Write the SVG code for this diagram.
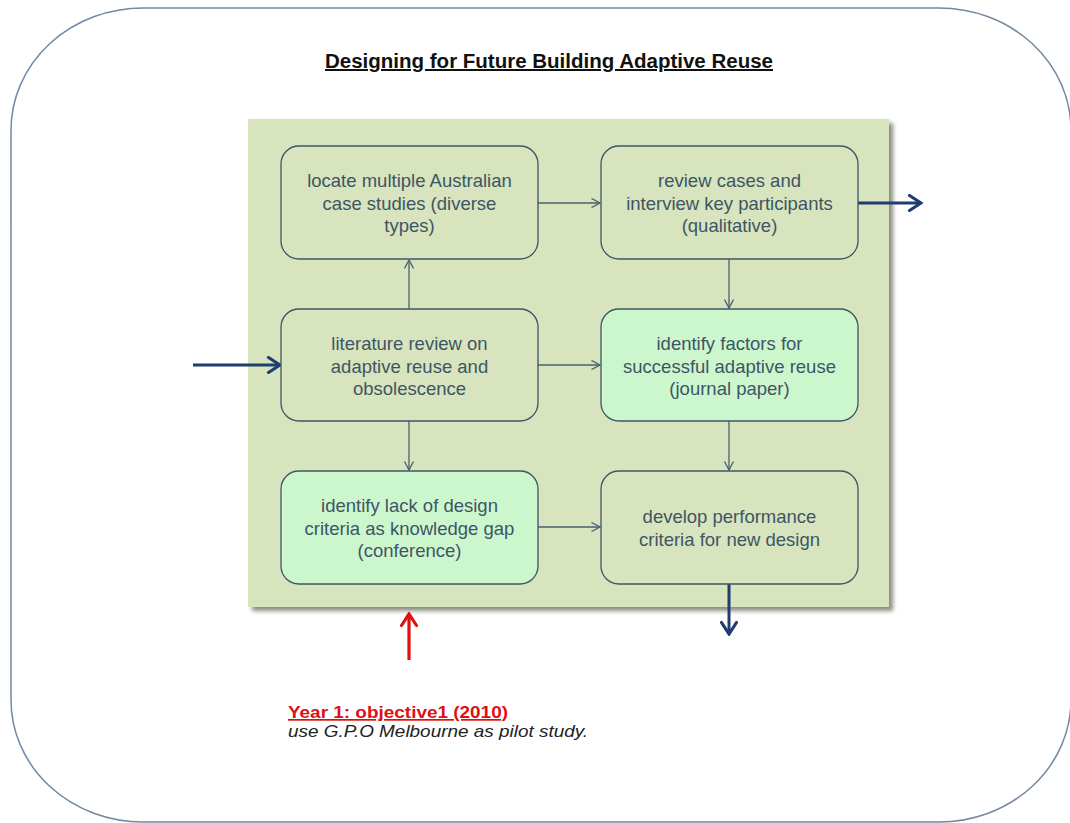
<svg xmlns="http://www.w3.org/2000/svg" width="1070" height="823" viewBox="0 0 1070 823">
  <defs>
    <style>
      .frame { fill: #ffffff; stroke: #7288a3; stroke-width: 1.5; }
      .panel { fill: #d7e4bd; }
      .step { fill: #d7e4bd; stroke: #3e5566; stroke-width: 1.3; }
      .key { fill: #ccf7cc; stroke: #3e5566; stroke-width: 1.3; }
      .label { font-family: "Liberation Sans", Arial, sans-serif; font-size: 18.5px; fill: #3e5566; text-anchor: middle; }
      .link { fill: none; stroke: #4a6070; stroke-width: 1.3; marker-end: url(#thin); }
      .flow { fill: none; stroke: #1f3d6e; stroke-width: 3; marker-end: url(#thick); }
      .start { fill: none; stroke: #e01010; stroke-width: 3.2; marker-end: url(#red); }
    </style>
    <marker id="thin" viewBox="0 0 10 10" refX="9.5" refY="5" markerWidth="10" markerHeight="10" markerUnits="userSpaceOnUse" orient="auto">
      <path d="M1,0.5 L9.5,5 L1,9.5" fill="none" stroke="#4a6070" stroke-width="1.3"/>
    </marker>
    <marker id="thick" viewBox="0 0 16 18" refX="14" refY="9" markerWidth="16" markerHeight="18" markerUnits="userSpaceOnUse" orient="auto">
      <path d="M2.5,1.5 L14,9 L2.5,16.5" fill="none" stroke="#1f3d6e" stroke-width="3.2" stroke-linecap="round"/>
    </marker>
    <marker id="red" viewBox="0 0 16 18" refX="14" refY="9" markerWidth="16" markerHeight="18" markerUnits="userSpaceOnUse" orient="auto">
      <path d="M2.5,1.5 L14,9 L2.5,16.5" fill="none" stroke="#e01010" stroke-width="3.2" stroke-linecap="round"/>
    </marker>
    <filter id="shade" x="-5%" y="-5%" width="115%" height="115%">
      <feGaussianBlur stdDeviation="2"/>
    </filter>
  </defs>

  <!-- outer frame -->
  <rect class="frame" x="11" y="8" width="1060" height="814" rx="132" ry="122"/>

  <!-- title -->
  <text x="549" y="68" font-family="Liberation Sans, Arial, sans-serif" font-size="20" font-weight="bold" fill="#111111" text-anchor="middle" text-decoration="underline" textLength="448" lengthAdjust="spacingAndGlyphs">Designing for Future Building Adaptive Reuse</text>

  <!-- background panel with soft shadow -->
  <rect x="252" y="123" width="641" height="488" fill="#8a8f80" filter="url(#shade)"/>
  <rect class="panel" x="248" y="119" width="641" height="488"/>

  <!-- connectors -->
  <g id="connectors">
    <line class="link" x1="538" y1="203" x2="600" y2="203"/>
    <line class="link" x1="409" y1="309" x2="409" y2="260"/>
    <line class="link" x1="538" y1="365" x2="600" y2="365"/>
    <line class="link" x1="409" y1="421" x2="409" y2="470"/>
    <line class="link" x1="729" y1="259" x2="729" y2="308"/>
    <line class="link" x1="729" y1="421" x2="729" y2="470"/>
    <line class="link" x1="538" y1="527" x2="600" y2="527"/>
    <line class="flow" x1="193" y1="365" x2="280" y2="365"/>
    <line class="flow" x1="858" y1="203" x2="921" y2="203"/>
    <line class="flow" x1="729" y1="584" x2="729" y2="634"/>
    <line class="start" x1="409" y1="660" x2="409" y2="614"/>
  </g>

  <!-- steps -->
  <g id="locate-cases">
    <rect class="step" x="281" y="146" width="257" height="113" rx="18"/>
    <text class="label" x="409.5" y="187">locate multiple Australian</text>
    <text class="label" x="409.5" y="210">case studies (diverse</text>
    <text class="label" x="409.5" y="232">types)</text>
  </g>
  <g id="review-cases">
    <rect class="step" x="601" y="146" width="257" height="113" rx="18"/>
    <text class="label" x="729.5" y="187">review cases and</text>
    <text class="label" x="729.5" y="210">interview key participants</text>
    <text class="label" x="729.5" y="232">(qualitative)</text>
  </g>
  <g id="literature-review">
    <rect class="step" x="281" y="309" width="257" height="112" rx="18"/>
    <text class="label" x="409.5" y="350">literature review on</text>
    <text class="label" x="409.5" y="373">adaptive reuse and</text>
    <text class="label" x="409.5" y="395">obsolescence</text>
  </g>
  <g id="identify-factors">
    <rect class="key" x="601" y="309" width="257" height="112" rx="18"/>
    <text class="label" x="729.5" y="350">identify factors for</text>
    <text class="label" x="729.5" y="373">successful adaptive reuse</text>
    <text class="label" x="729.5" y="395">(journal paper)</text>
  </g>
  <g id="identify-gap">
    <rect class="key" x="281" y="471" width="257" height="113" rx="18"/>
    <text class="label" x="409.5" y="512">identify lack of design</text>
    <text class="label" x="409.5" y="535">criteria as knowledge gap</text>
    <text class="label" x="409.5" y="557">(conference)</text>
  </g>
  <g id="develop-criteria">
    <rect class="step" x="601" y="471" width="257" height="113" rx="18"/>
    <text class="label" x="729.5" y="523">develop performance</text>
    <text class="label" x="729.5" y="546">criteria for new design</text>
  </g>

  <!-- year note -->
  <g id="year-note">
    <text x="288" y="718" font-family="Liberation Sans, Arial, sans-serif" font-size="17" font-weight="bold" fill="#e01010" text-decoration="underline" textLength="220" lengthAdjust="spacingAndGlyphs">Year 1: objective1 (2010)</text>
    <text x="288" y="737" font-family="Liberation Sans, Arial, sans-serif" font-size="17" font-style="italic" fill="#222222" textLength="300" lengthAdjust="spacingAndGlyphs">use G.P.O Melbourne as pilot study.</text>
  </g>
</svg>
